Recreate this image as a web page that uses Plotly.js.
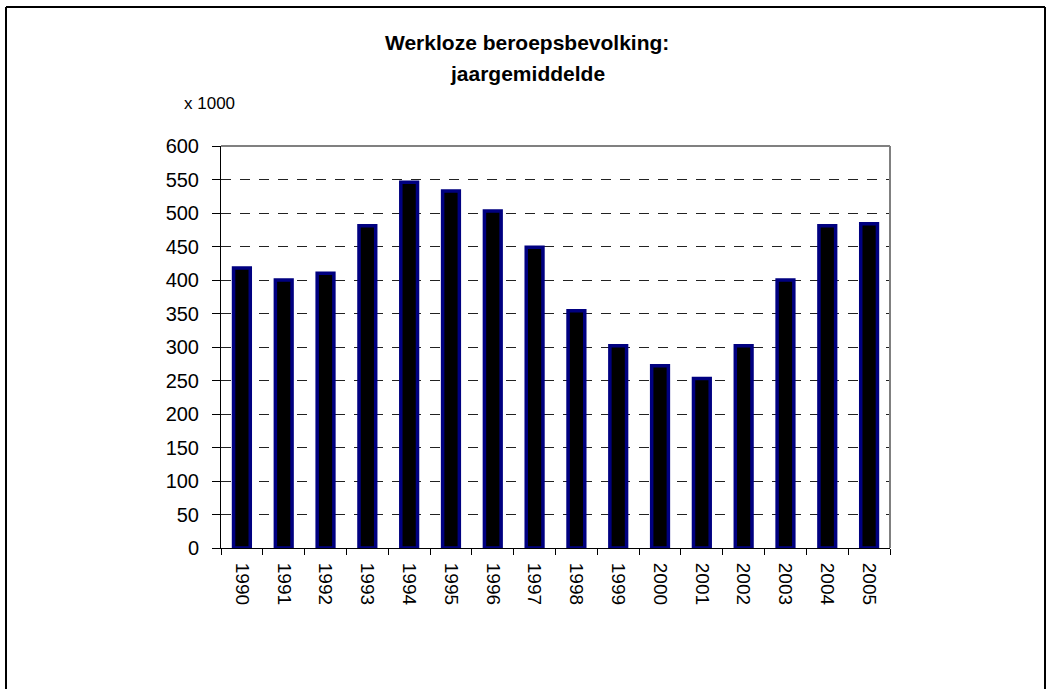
<!DOCTYPE html>
<html>
<head>
<meta charset="utf-8">
<script src="https://cdn.plot.ly/plotly-3.0.1.min.js"></script>
<style>html,body{margin:0;padding:0;background:#fff;}#chart{width:1047px;height:689px;}</style>
</head>
<body>
<div id="chart"></div>
<script>
const years = ["1990","1991","1992","1993","1994","1995","1996","1997","1998","1999","2000","2001","2002","2003","2004","2005"];
const werklozen = [418, 400, 410, 481, 546, 533, 503, 449, 354, 302, 272, 253, 302, 400, 481, 484];
const yTicks = [0, 50, 100, 150, 200, 250, 300, 350, 400, 450, 500, 550, 600];
const titleLines = ["Werkloze beroepsbevolking:", "jaargemiddelde"];
const unitLabel = "x 1000";

const W = 1047, H = 689;
const L = 221, R = 890, T = 146, B = 548;
const px = v => (v - L) / (R - L);
const py = v => (B - v) / (B - T);
const FONT = "Liberation Sans, Arial, sans-serif";

const trace = {
  type: "bar",
  x: years,
  y: werklozen,
  width: 0.4,
  marker: {color: "#000000", line: {color: "#000080", width: 3.5}},
  hoverinfo: "x+y"
};

const layout = {
  width: W, height: H,
  margin: {l: L, r: W - R, t: T, b: H - B, pad: 0},
  paper_bgcolor: "#ffffff",
  plot_bgcolor: "#ffffff",
  showlegend: false,
  font: {family: FONT, color: "#000", size: 19},
  xaxis: {
    type: "category",
    tickson: "boundaries",
    ticks: "outside", ticklen: 6, tickcolor: "#000", tickwidth: 1,
    tickangle: 90,
    ticklabelstandoff: 10,
    showline: true, linecolor: "#000", linewidth: 1,
    showgrid: false, zeroline: false,
    tickfont: {size: 19, family: FONT},
    range: [-0.5, 15.5]
  },
  yaxis: {
    range: [0, 600],
    tickvals: yTicks,
    ticktext: yTicks.map(String),
    ticks: "outside", ticklen: 8, tickcolor: "#000", tickwidth: 1,
    ticklabelstandoff: 9,
    showline: true, linecolor: "#000", linewidth: 1,
    showgrid: true, gridcolor: "#222", gridwidth: 1, griddash: "10px,9px",
    zeroline: false,
    tickfont: {size: 20, family: FONT}
  },
  annotations: [
    {xref: "paper", yref: "paper", x: px(527), y: py(43), text: "<b>" + titleLines[0] + "</b>",
     showarrow: false, xanchor: "center", yanchor: "middle",
     font: {size: 21, family: FONT, color: "#000"}},
    {xref: "paper", yref: "paper", x: px(527), y: py(73), text: "<b>" + titleLines[1] + "</b>",
     showarrow: false, xanchor: "center", yanchor: "middle",
     font: {size: 21, family: FONT, color: "#000"}},
    {xref: "paper", yref: "paper", x: px(182), y: py(104), text: unitLabel,
     showarrow: false, xanchor: "left", yanchor: "middle",
     font: {size: 17, family: FONT, color: "#000"}}
  ],
  shapes: [
    {type: "line", xref: "paper", yref: "paper", x0: 0, x1: 1, y0: 1, y1: 1, line: {color: "#808080", width: 2}, layer: "above"},
    {type: "line", xref: "paper", yref: "paper", x0: 1, x1: 1, y0: 0, y1: 1, line: {color: "#808080", width: 2}, layer: "above"},
    {type: "line", xref: "paper", yref: "paper", x0: px(6), x1: px(1045), y0: py(7), y1: py(7), line: {color: "#000", width: 2}},
    {type: "line", xref: "paper", yref: "paper", x0: px(6), x1: px(6), y0: py(7), y1: py(700), line: {color: "#000", width: 2}},
    {type: "line", xref: "paper", yref: "paper", x0: px(1045), x1: px(1045), y0: py(7), y1: py(700), line: {color: "#000", width: 2}}
  ]
};

Plotly.newPlot("chart", [trace], layout, {displayModeBar: false, staticPlot: true});
</script>
</body>
</html>
